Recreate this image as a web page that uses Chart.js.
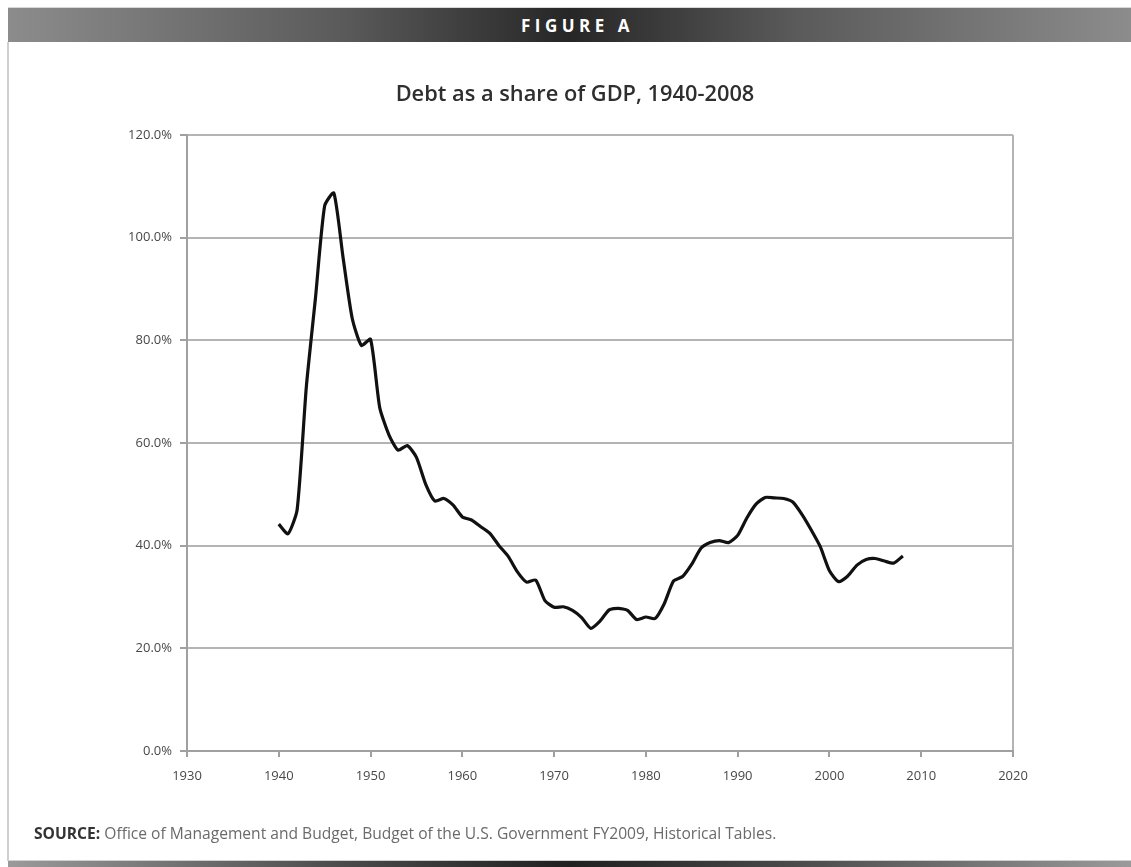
<!DOCTYPE html>
<html>
<head>
<meta charset="utf-8">
<script src="https://cdn.jsdelivr.net/npm/chart.js@4.4.1/dist/chart.umd.min.js"></script>
<style>
  html, body { margin: 0; padding: 0; background: #fff; }
  body { width: 1131px; height: 867px; position: relative; overflow: hidden; font-family: "Open Sans", "Liberation Sans", sans-serif; }
  #header { position: absolute; left: 8px; top: 7px; width: 1123px; height: 35px;
    background: linear-gradient(to right, #8c8c8c 0%, #5a5a5a 30%, #262626 50%, #5a5a5a 70%, #8c8c8c 100%);
    border-top: 1px solid #d8d8d8; box-sizing: border-box; }
  #header span { position: absolute; left: 0; right: 0; top: 6px; text-align: center; padding-left: 16px;
    color: #fff; font-weight: bold; font-size: 17px; letter-spacing: 4.5px; font-family: "Open Sans", sans-serif; }
  #leftborder { position: absolute; left: 7px; top: 42px; width: 2px; height: 819px; background: #cfcfcf; }
  #bottombar { position: absolute; left: 8px; top: 860px; width: 1123px; height: 7px;
    background: linear-gradient(to right, #9a9a9a 0%, #4a4a4a 30%, #202020 50%, #4a4a4a 70%, #9a9a9a 100%);
    border-top: 1px solid #d0d0d0; box-sizing: border-box; }
  #title { position: absolute; left: 375px; width: 400px; top: 78px; text-align: center; white-space: nowrap;
    font-size: 21.8px; font-weight: 600; color: #2e2e2e; font-family: "Open Sans", sans-serif; }
  #source { position: absolute; left: 34px; top: 822px; font-size: 15.6px; color: #6a6a6a; white-space: nowrap; letter-spacing: 0px; }
  #source b { color: #333; font-weight: bold; }
  #chartwrap { position: absolute; left: 0; top: 0; width: 1131px; height: 867px; }
</style>
</head>
<body>
<div id="header"><span>FIGURE A</span></div>
<div id="leftborder"></div>
<div id="chartwrap"><canvas id="c" width="1131" height="867"></canvas></div>
<div id="title"></div>
<div id="source"><b>SOURCE:</b> Office of Management and Budget, Budget of the U.S. Government FY2009, Historical Tables.</div>
<div id="bottombar"></div>
<script>
const chartTitle = "Debt as a share of GDP, 1940-2008";
const years = [1940,1941,1942,1943,1944,1945,1946,1947,1948,1949,
  1950,1951,1952,1953,1954,1955,1956,1957,1958,1959,
  1960,1961,1962,1963,1964,1965,1966,1967,1968,1969,
  1970,1971,1972,1973,1974,1975,1976,1977,1978,1979,
  1980,1981,1982,1983,1984,1985,1986,1987,1988,1989,
  1990,1991,1992,1993,1994,1995,1996,1997,1998,1999,
  2000,2001,2002,2003,2004,2005,2006,2007,2008];
const debtShare = [44.2,42.3,47.0,70.9,88.3,106.2,108.7,96.2,84.3,79.0,
  80.2,66.9,61.6,58.6,59.5,57.2,52.0,48.7,49.2,47.9,
  45.6,45.0,43.7,42.4,40.0,37.9,34.9,32.9,33.3,29.3,
  28.0,28.1,27.4,26.0,23.9,25.3,27.5,27.8,27.4,25.6,
  26.1,25.8,28.7,33.1,34.0,36.4,39.5,40.6,41.0,40.6,
  42.0,45.4,48.1,49.4,49.3,49.2,48.5,46.1,43.1,39.8,
  35.1,33.0,34.1,36.2,37.3,37.5,37.0,36.6,38.0];
const xTicks = [1930,1940,1950,1960,1970,1980,1990,2000,2010,2020];
const yTicks = [0,20,40,60,80,100,120];

document.getElementById('title').textContent = chartTitle;

const points = years.map((y, i) => ({x: y, y: debtShare[i]}));
const gridGray = '#b4b4b4';
const axisGray = '#a0a0a0';
const tickFont = { family: '"Open Sans", sans-serif', size: 13 };

new Chart(document.getElementById('c'), {
  type: 'line',
  data: { datasets: [{
    label: 'Debt as a share of GDP',
    data: points,
    borderColor: '#111',
    borderWidth: 3.2,
    pointRadius: 0,
    tension: 0.2,
    fill: false
  }]},
  options: {
    responsive: false,
    animation: false,
    layout: { padding: { left: 87, right: 118, top: 135, bottom: 86 } },
    plugins: {
      legend: { display: false },
      tooltip: { enabled: false },
      title: { display: false }
    },
    scales: {
      x: {
        type: 'linear',
        min: xTicks[0], max: xTicks[xTicks.length - 1],
        afterBuildTicks: s => { s.ticks = xTicks.map(v => ({value: v})); },
        afterFit: s => { s.height = 30; },
        border: { color: axisGray, width: 2 },
        grid: {
          color: ctx => (ctx.tick && ctx.tick.value === 2020) ? gridGray : 'rgba(0,0,0,0)',
          lineWidth: 2,
          tickColor: axisGray,
          tickLength: 6,
          drawTicks: true
        },
        ticks: { color: '#484848', font: tickFont, padding: 11, maxRotation: 0, callback: v => String(v) }
      },
      y: {
        min: yTicks[0], max: yTicks[yTicks.length - 1],
        afterBuildTicks: s => { s.ticks = yTicks.map(v => ({value: v})); },
        afterFit: s => { s.width = 100; },
        border: { color: axisGray, width: 2 },
        grid: { color: gridGray, lineWidth: 2, tickColor: axisGray, tickLength: 7 },
        ticks: { color: '#484848', font: tickFont, padding: 8, callback: v => v.toFixed(1) + '%' }
      }
    }
  }
});
</script>
</body>
</html>
